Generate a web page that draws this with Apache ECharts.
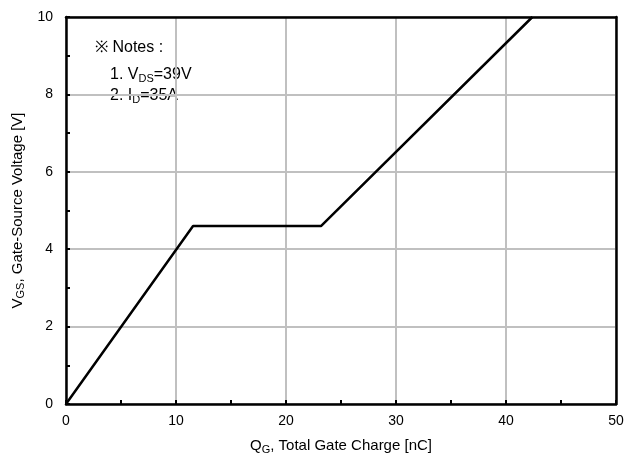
<!DOCTYPE html>
<html><head><meta charset="utf-8">
<script src="https://cdn.jsdelivr.net/npm/echarts@6/dist/echarts.min.js"></script>
<style>html,body{margin:0;padding:0;background:#fff}#c{width:627px;height:469px}</style>
</head><body><div id="c"></div>
<script>
var qg = [0, 11.55, 23.2, 42.4];
var vgs = [0, 4.6, 4.6, 10];
var xTicks = [0, 10, 20, 30, 40, 50];
var yTicks = [0, 2, 4, 6, 8, 10];

var font = 'Liberation Sans, Arial, sans-serif';
var chart = echarts.init(document.getElementById('c'));
var lineData = qg.map(function (x, i) { return [x, vgs[i]]; });
chart.setOption({
  animation: false,
  backgroundColor: '#fff',
  grid: { left: 66, top: 17, right: 11, bottom: 65 },
  xAxis: [{
    type: 'value', min: xTicks[0], max: xTicks[xTicks.length - 1], interval: 10,
    name: '{n|Q}{s|G}{n|, Total Gate Charge [nC]}',
    nameLocation: 'middle', nameGap: 33,
    nameTextStyle: { rich: {
      n: { fontFamily: font, fontSize: 15, color: '#000' },
      s: { fontFamily: font, fontSize: 11, color: '#000', padding: [7, 0, 0, 0] }
    } },
    axisLine: { show: true, onZero: false, lineStyle: { color: '#000', width: 2.5 } },
    axisTick: { show: true, inside: true, length: 4, lineStyle: { color: '#000', width: 2 } },
    minorTick: { show: true, splitNumber: 2, length: 4, lineStyle: { color: '#000', width: 2 } },
    axisLabel: { fontFamily: font, fontSize: 14, color: '#000', margin: 10 },
    splitLine: { show: true, lineStyle: { color: '#c0c0c0', width: 2 } }
  }, {
    type: 'value', position: 'top', min: 0, max: 50,
    axisLine: { show: true, onZero: false, lineStyle: { color: '#000', width: 2.5 } },
    axisTick: { show: false }, axisLabel: { show: false }, splitLine: { show: false }
  }],
  yAxis: [{
    type: 'value', min: yTicks[0], max: yTicks[yTicks.length - 1], interval: 2,
    name: '{n|V}{s|GS}{n|, Gate-Source Voltage [V]}',
    nameLocation: 'middle', nameGap: 35, nameRotate: 90,
    nameTextStyle: { rich: {
      n: { fontFamily: font, fontSize: 15, color: '#000' },
      s: { fontFamily: font, fontSize: 11, color: '#000', padding: [7, 0, 0, 0] }
    } },
    axisLine: { show: true, onZero: false, lineStyle: { color: '#000', width: 2.5 } },
    axisTick: { show: true, inside: true, length: 4, lineStyle: { color: '#000', width: 2 } },
    minorTick: { show: true, splitNumber: 2, length: 4, lineStyle: { color: '#000', width: 2 } },
    axisLabel: { fontFamily: font, fontSize: 14, color: '#000', margin: 13 },
    splitLine: { show: true, lineStyle: { color: '#c0c0c0', width: 2 } }
  }, {
    type: 'value', position: 'right', min: 0, max: 10,
    axisLine: { show: true, onZero: false, lineStyle: { color: '#000', width: 2.5 } },
    axisTick: { show: false }, axisLabel: { show: false }, splitLine: { show: false }
  }],
  graphic: [{
    type: 'text', left: 95, top: 40,
    style: { text: '※ Notes :', font: '16px ' + font, fill: '#000' }
  }, {
    type: 'text', left: 110, top: 66,
    style: {
      text: '{n|1. V}{s|DS}{n|=39V}\n{n|2. I}{s|D}{n|=35A}',
      rich: {
        n: { fontFamily: font, fontSize: 16, fill: '#000', lineHeight: 21 },
        s: { fontFamily: font, fontSize: 11, fill: '#000', padding: [7, 0, 0, 0], lineHeight: 21 }
      }
    }
  }],
  series: [{
    type: 'line', data: lineData, showSymbol: false, symbol: 'none',
    lineStyle: { color: '#000', width: 2.5 }, z: 5
  }]
});
</script></body></html>
